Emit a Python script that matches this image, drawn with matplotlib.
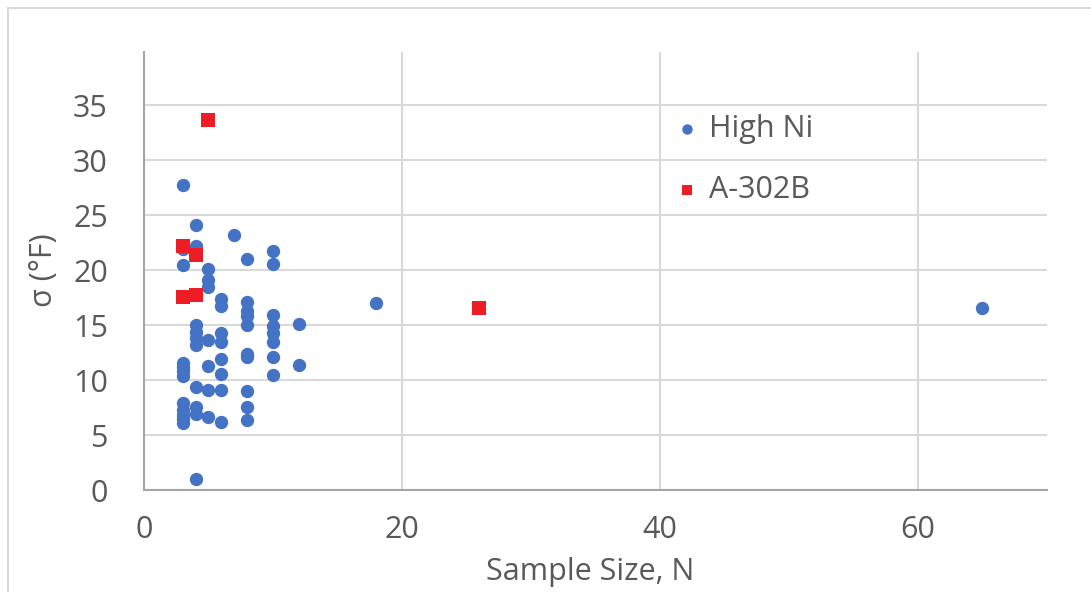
import matplotlib
matplotlib.use("Agg")
import matplotlib.pyplot as plt
from matplotlib.patches import Rectangle

# High Ni heats: sample size and standard deviation
high_ni_n = [3, 3, 3, 3, 3, 3, 3, 3, 3, 3, 3, 3,
             4, 4, 4, 4, 4, 4, 4, 4, 4, 4,
             5, 5, 5, 5, 5, 5, 5,
             6, 6, 6, 6, 6, 6, 6, 6,
             7,
             8, 8, 8, 8, 8, 8, 8, 8, 8, 8,
             10, 10, 10, 10, 10, 10, 10, 10,
             12, 12,
             18, 65]
high_ni_sigma = [27.7, 21.9, 20.5, 11.6, 11.2, 10.8, 10.4, 7.9, 7.3, 6.8, 6.5, 6.1,
                 24.1, 22.2, 15.0, 14.4, 13.8, 13.2, 9.4, 7.6, 6.9, 1.0,
                 20.1, 19.1, 18.5, 13.7, 11.3, 9.1, 6.7,
                 17.4, 16.7, 14.3, 13.5, 11.9, 10.6, 9.1, 6.2,
                 23.2,
                 21.0, 17.1, 16.3, 15.8, 15.0, 12.4, 12.1, 9.0, 7.6, 6.4,
                 21.7, 20.6, 15.9, 14.9, 14.3, 13.5, 12.1, 10.5,
                 15.1, 11.4,
                 17.0, 16.6]

# A-302B heats
a302b_n = [5, 3, 4, 3, 4, 26]
a302b_sigma = [33.6, 22.2, 21.4, 17.6, 17.7, 16.6]

x_ticks = [0, 20, 40, 60]
y_ticks = [0, 5, 10, 15, 20, 25, 30, 35]

BLUE = "#4472C4"
RED = "#EE1C25"
TEXT = "#595959"
GRID = "#D9D9D9"
AXIS = "#A6A6A6"

plt.rcParams["font.family"] = ["Open Sans", "DejaVu Sans"]

fig = plt.figure(figsize=(10.91, 5.92), dpi=100)
fig.patch.set_facecolor("white")

# chart area border
fig.patches.append(Rectangle((8 / 1091, -0.2), 1.5, 1 - 8 / 592 + 0.2,
                             transform=fig.transFigure, fill=False,
                             edgecolor=GRID, linewidth=1.5))

ax = fig.add_axes([144 / 1091, 1 - 490.3 / 592, 902.7 / 1091, 438.6 / 592])
ax.set_facecolor("none")

ax.scatter(high_ni_n, high_ni_sigma, s=92, marker="o", color=BLUE,
           linewidths=0, label="High Ni", zorder=3)
ax.scatter(a302b_n, a302b_sigma, s=92, marker="s", color=RED,
           linewidths=0, label="A-302B", zorder=4)

ax.set_xlim(0, 70)
ax.set_ylim(0, 39.85)
ax.set_xticks(x_ticks)
ax.set_yticks(y_ticks)
ax.tick_params(axis="both", length=0, labelsize=22, colors=TEXT)
ax.tick_params(axis="x", pad=18)
ax.tick_params(axis="y", pad=26)

ax.grid(True, color=GRID, linewidth=1.5, zorder=0)
ax.set_axisbelow(True)
for side in ("top", "right"):
    ax.spines[side].set_visible(False)
for side in ("left", "bottom"):
    ax.spines[side].set_color(AXIS)
    ax.spines[side].set_linewidth(1.5)

ax.set_xlabel("Sample Size, N", fontsize=22, color=TEXT)
ax.xaxis.set_label_coords((590 - 144) / 902.7, (490.3 - 572) / 438.6)
ax.xaxis.label.set_verticalalignment("center")
ax.set_ylabel("σ (°F)", fontsize=22, color=TEXT)
ax.yaxis.set_label_coords((44 - 144) / 902.7, (490.3 - 270) / 438.6)
ax.yaxis.label.set_verticalalignment("center")

leg = ax.legend(loc="upper left", bbox_to_anchor=(679.5 / 1091, 1 - 114 / 592),
                bbox_transform=fig.transFigure, frameon=False, fontsize=22,
                markerscale=0.78, handlelength=0.5, handletextpad=0.47,
                labelspacing=1.03, borderpad=0, borderaxespad=0)
for t in leg.get_texts():
    t.set_color(TEXT)

fig.savefig("out.png", dpi=100, facecolor="white")
